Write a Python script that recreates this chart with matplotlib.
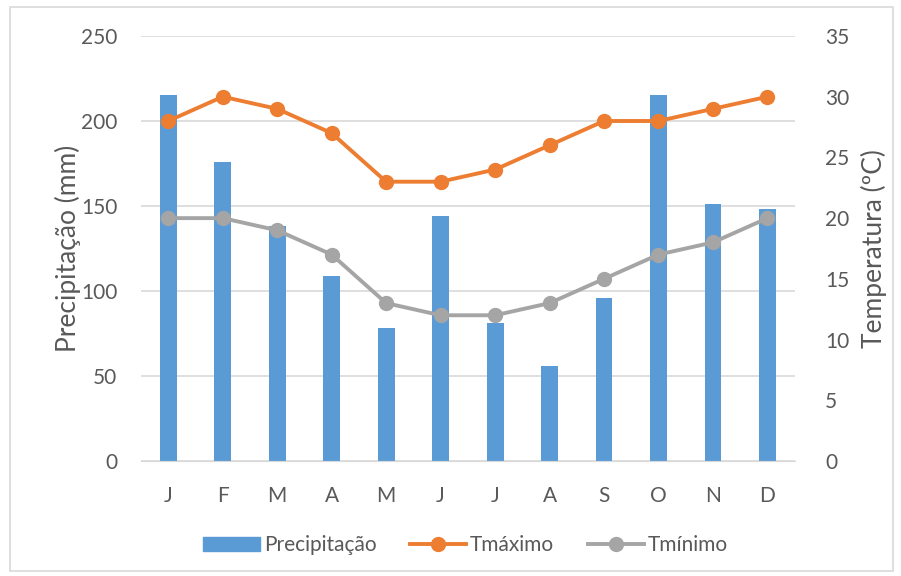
import matplotlib.pyplot as plt
from matplotlib.patches import Rectangle
from matplotlib.lines import Line2D
from matplotlib.patches import Patch
import numpy as np

meses = ["J", "F", "M", "A", "M", "J", "J", "A", "S", "O", "N", "D"]
precipitacao = [215, 176, 138, 109, 78, 144, 81, 56, 96, 215, 151, 148]
tmaximo = [28, 30, 29, 27, 23, 23, 24, 26, 28, 28, 29, 30]
tminimo = [20, 20, 19, 17, 13, 12, 12, 13, 15, 17, 18, 20]

azul = "#5B9BD5"
laranja = "#ED7D31"
cinza = "#A5A5A5"
texto = "#595959"

plt.rcParams['font.family'] = ['Lato', 'DejaVu Sans']

fig = plt.figure(figsize=(9.01, 5.76), dpi=100)
ax = fig.add_axes([0.1565, 0.1997, 0.7255, 0.7378])
ax2 = ax.twinx()

x = np.arange(len(meses))
ax.bar(x, precipitacao, width=0.31, color=azul, zorder=2)
ax2.plot(x, tmaximo, color=laranja, lw=2.8, marker="o", ms=10, zorder=3)
ax2.plot(x, tminimo, color=cinza, lw=2.8, marker="o", ms=10, zorder=3)

ax.set_xlim(-0.5, 11.5)
ax.set_ylim(0, 250)
ax2.set_ylim(0, 35)
ax.set_yticks(range(0, 251, 50))
ax2.set_yticks(range(0, 36, 5))
ax.set_xticks(x)
ax.set_xticklabels(meses)
ax.yaxis.grid(True, color="#D9D9D9", lw=1.2, zorder=0)
ax.set_axisbelow(True)

for a in (ax, ax2):
    for s in a.spines.values():
        s.set_visible(False)
    a.tick_params(length=0, colors=texto, labelsize=15)
ax.spines["bottom"].set_visible(True)
ax.spines["bottom"].set_color("#D9D9D9")
ax.tick_params(axis="x", pad=18)
ax.tick_params(axis="y", pad=17)
ax2.tick_params(axis="y", pad=22)

ax.set_ylabel("Precipitação (mm)", fontsize=19, color=texto, labelpad=0)
ax2.set_ylabel("Temperatura (ºC)", fontsize=19, color=texto, labelpad=8)

handles = [
    Patch(color=azul),
    Line2D([], [], color=laranja, lw=2.8, marker="o", ms=10),
    Line2D([], [], color=cinza, lw=2.8, marker="o", ms=10),
]
fig.legend(handles, ["Precipitação", "Tmáximo", "Tmínimo"], loc="center",
           bbox_to_anchor=(0.517, 0.053), ncol=3, frameon=False, fontsize=15,
           labelcolor=texto, handlelength=2.7, handletextpad=0.2, columnspacing=1.6)

fig.patches.append(Rectangle((0.011, 0.008), 0.98, 0.98, transform=fig.transFigure,
                             fill=False, edgecolor="#D9D9D9", lw=1.2))

fig.savefig("out.png", dpi=100)
